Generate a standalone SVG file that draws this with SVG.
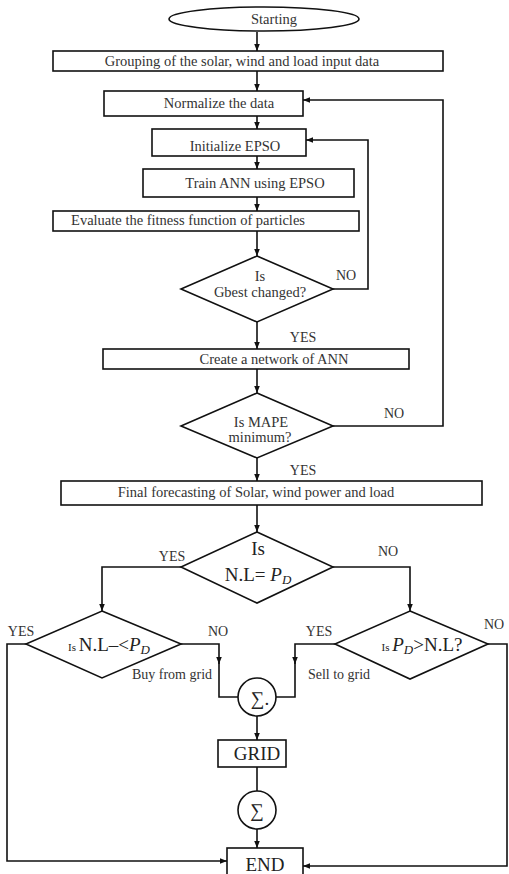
<svg xmlns="http://www.w3.org/2000/svg" width="509" height="874" viewBox="0 0 509 874">
<defs>
<style>
.s{fill:#fff;stroke:#111;stroke-width:1.6}
.c{fill:none;stroke:#111;stroke-width:1.6}
.t{font-family:"Liberation Serif",serif;font-size:14.5px;fill:#333;text-anchor:middle}
.l{font-family:"Liberation Serif",serif;font-size:14px;fill:#333;text-anchor:middle}
.b{font-family:"Liberation Serif",serif;font-size:19px;fill:#222;text-anchor:middle}
.i{font-style:italic}
</style>
<marker id="a" viewBox="0 0 10 10" refX="10" refY="5" markerWidth="7" markerHeight="7" orient="auto" markerUnits="userSpaceOnUse">
<path d="M0,1 L10,5 L0,9 Z" fill="#111"/>
</marker>
</defs>
<rect width="509" height="874" fill="#fff"/>
<g id="connectors">
<path class="c" d="M257,32 V51" marker-end="url(#a)"/>
<path class="c" d="M257,71 V91" marker-end="url(#a)"/>
<path class="c" d="M257,116 V129" marker-end="url(#a)"/>
<path class="c" d="M257,156 V169" marker-end="url(#a)"/>
<path class="c" d="M257,197 V211" marker-end="url(#a)"/>
<path class="c" d="M257,231 V256" marker-end="url(#a)"/>
<path class="c" d="M333,289 H368 V140 H306" marker-end="url(#a)"/>
<path class="c" d="M257,322 V349" marker-end="url(#a)"/>
<path class="c" d="M257,369 V393" marker-end="url(#a)"/>
<path class="c" d="M333,426 H443 V100 H303" marker-end="url(#a)"/>
<path class="c" d="M257,458 V481" marker-end="url(#a)"/>
<path class="c" d="M257,505 V532" marker-end="url(#a)"/>
<path class="c" d="M181,567 H102 V611" marker-end="url(#a)"/>
<path class="c" d="M333,567 H410 V611" marker-end="url(#a)"/>
<path class="c" d="M181,644 H219 V664" marker-end="url(#a)"/>
<path class="c" d="M219,660 V697 H238"/>
<path class="c" d="M335,644 H295 V664" marker-end="url(#a)"/>
<path class="c" d="M295,660 V697 H276"/>
<path class="c" d="M257,716 V740" marker-end="url(#a)"/>
<path class="c" d="M257,767 V791"/>
<path class="c" d="M257,829 V848" marker-end="url(#a)"/>
<path class="c" d="M26,644 H7 V861 H227" marker-end="url(#a)"/>
<path class="c" d="M488,644 H507 V866 H303" marker-end="url(#a)"/>
</g>
<g id="start"><ellipse class="s" cx="264" cy="19" rx="95" ry="12"/><text class="t" x="274" y="24">Starting</text></g>
<g id="grouping"><rect class="s" x="53" y="51" width="390" height="20"/><text class="t" x="242" y="66">Grouping of the solar, wind and load input data</text></g>
<g id="normalize"><rect class="s" x="104" y="91" width="199" height="25"/><text class="t" x="219" y="108">Normalize the data</text></g>
<g id="init"><rect class="s" x="152" y="129" width="154" height="27"/><text class="t" x="235" y="151">Initialize EPSO</text></g>
<g id="train"><rect class="s" x="143" y="169" width="211" height="28"/><text class="t" x="255" y="188">Train ANN using EPSO</text></g>
<g id="evaluate"><rect class="s" x="53" y="211" width="306" height="20"/><text class="t" x="188" y="225">Evaluate the fitness function of particles</text></g>
<g id="gbest"><path class="s" d="M257,256 L333,289 L257,322 L181,289 Z"/><text class="t" x="260" y="281">Is</text><text class="t" x="260" y="297">Gbest changed?</text><text class="l" x="346" y="280">NO</text><text class="l" x="303" y="342">YES</text></g>
<g id="create"><rect class="s" x="103" y="349" width="306" height="20"/><text class="t" x="274" y="364">Create a network of ANN</text></g>
<g id="mape"><path class="s" d="M257,393 L333,426 L257,458 L181,426 Z"/><text class="t" x="261" y="427">Is MAPE</text><text class="t" x="260" y="442">minimum?</text><text class="l" x="394" y="418">NO</text><text class="l" x="303" y="475">YES</text></g>
<g id="final"><rect class="s" x="61" y="481" width="421" height="24"/><text class="t" x="256" y="497">Final forecasting of Solar, wind power and load</text></g>
<g id="isnl"><path class="s" d="M257,532 L333,567 L257,603 L181,567 Z"/><text class="b" x="258" y="555" font-size="17">Is</text><text class="b" x="258" y="581">N.L= <tspan class="i">P</tspan><tspan class="i" font-size="13" dy="3">D</tspan></text><text class="l" x="172" y="561">YES</text><text class="l" x="388" y="556">NO</text></g>
<g id="lt"><path class="s" d="M102,611 L181,644 L102,678 L26,644 Z"/><text class="b" x="109" y="651"><tspan font-size="11">Is </tspan>N.L–&lt;<tspan class="i">P</tspan><tspan class="i" font-size="13" dy="3">D</tspan></text><text class="l" x="21" y="636">YES</text><text class="l" x="218" y="636">NO</text><text class="l" x="172" y="679">Buy from grid</text></g>
<g id="gt"><path class="s" d="M410,611 L488,644 L410,679 L335,644 Z"/><text class="b" x="422" y="651"><tspan font-size="11">Is </tspan><tspan class="i">P</tspan><tspan class="i" font-size="13" dy="3">D</tspan><tspan dy="-3">&gt;N.L?</tspan></text><text class="l" x="319" y="636">YES</text><text class="l" x="494" y="629">NO</text><text class="l" x="339" y="679">Sell to grid</text></g>
<g id="sum1"><circle class="s" cx="257" cy="697" r="19" stroke="#555"/><text class="b" x="260" y="705" font-size="21">∑.</text></g>
<g id="grid"><rect class="s" x="218" y="740" width="68" height="27"/><text class="b" x="257" y="760">GRID</text></g>
<g id="sum2"><circle class="s" cx="257" cy="810" r="19"/><text class="b" x="257" y="817" font-size="21">∑</text></g>
<g id="end"><rect class="s" x="227" y="848" width="76" height="30"/><text class="b" x="265" y="871">END</text></g>
</svg>
